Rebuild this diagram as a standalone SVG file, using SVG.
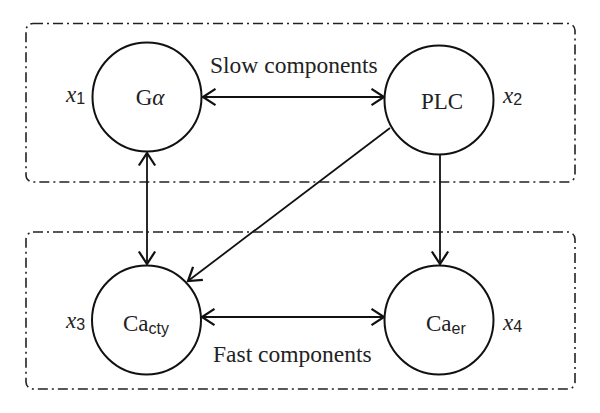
<svg xmlns="http://www.w3.org/2000/svg" width="600" height="413" viewBox="0 0 600 413">
<style>
.box{fill:none;stroke:#222;stroke-width:1.6;stroke-dasharray:10 4 2 4}
.node{fill:#fff;stroke:#111;stroke-width:2}
.lbl{font-family:"Liberation Serif",serif;font-size:23px;fill:#222}
.big{font-size:23.5px}
.var{font-family:"Liberation Serif",serif;font-size:23px;font-style:italic;fill:#222}
.sub{font-family:"Liberation Sans",sans-serif;font-size:16px;font-style:normal}
.edge{stroke:#111;stroke-width:1.8;fill:none}
</style>
<defs>
<marker id="ah" markerUnits="userSpaceOnUse" markerWidth="20" markerHeight="20" refX="0" refY="0" viewBox="-12 -8 14 16" orient="auto-start-reverse">
<path d="M-10,-6.5 L0,0 L-10,6.5" fill="none" stroke="#111" stroke-width="1.8"/>
</marker>
</defs>
<rect width="600" height="413" fill="#fff"/>
<g id="groups">
<rect class="box" x="26" y="23.5" width="549" height="158.5" rx="7"/>
<rect class="box" x="26" y="232" width="549" height="157" rx="7"/>
<text class="lbl big" x="210" y="73">Slow components</text>
<text class="lbl big" x="213" y="362">Fast components</text>
</g>
<g id="connectors">
<line class="edge" x1="203" y1="97" x2="384" y2="97" marker-start="url(#ah)" marker-end="url(#ah)"/>
<line class="edge" x1="147" y1="153" x2="147" y2="264" marker-start="url(#ah)" marker-end="url(#ah)"/>
<line class="edge" x1="440" y1="155" x2="440" y2="264" marker-end="url(#ah)"/>
<line class="edge" x1="390" y1="128" x2="188" y2="281" marker-end="url(#ah)"/>
<line class="edge" x1="202" y1="317" x2="384" y2="317" marker-start="url(#ah)" marker-end="url(#ah)"/>
</g>
<g id="n1">
<circle class="node" cx="147" cy="97" r="54.5"/>
<text class="lbl" x="150" y="105" text-anchor="middle">G<tspan font-style="italic">α</tspan></text>
<text class="var" x="66" y="102">x<tspan class="sub" dy="2">1</tspan></text>
</g>
<g id="n2">
<circle class="node" cx="439" cy="100" r="54.5"/>
<text class="lbl" x="442" y="109" text-anchor="middle">PLC</text>
<text class="var" x="503" y="103">x<tspan class="sub" dy="2">2</tspan></text>
</g>
<g id="n3">
<circle class="node" cx="146.5" cy="320" r="54.5"/>
<text class="lbl" x="123" y="331">Ca<tspan class="sub" dy="3">cty</tspan></text>
<text class="var" x="66" y="328">x<tspan class="sub" dy="2">3</tspan></text>
</g>
<g id="n4">
<circle class="node" cx="439" cy="320" r="54.5"/>
<text class="lbl" x="426" y="331">Ca<tspan class="sub" dy="3">er</tspan></text>
<text class="var" x="503" y="330">x<tspan class="sub" dy="2">4</tspan></text>
</g>
</svg>
